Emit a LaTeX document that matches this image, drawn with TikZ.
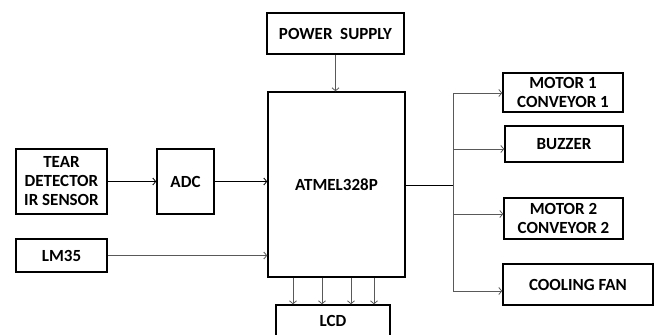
\documentclass[tikz,border=0pt]{standalone}
\usepackage{fontspec}
\setmainfont{Carlito}
\usepackage{xcolor}
\usetikzlibrary{arrows.meta,positioning,calc}

\begin{document}
\begin{tikzpicture}[x=1pt, y=-1pt, >={Straight Barb[length=3pt,width=7pt]},
    every node/.style={draw, line width=1.4pt, inner sep=0pt, align=center, font=\bfseries\fontsize{17}{19}\selectfont},
    wire/.style={line width=0.8pt, black!65}]
    \useasboundingbox (0,0) rectangle (654,335);
    \clip (0,0) rectangle (654,335);

    \node[minimum width=137pt, minimum height=41pt] (power) at (335.5, 33.5) {POWER\ \ SUPPLY};
    \node[minimum width=137pt, minimum height=185pt] (atmel) at (336.5, 184.5) {ATMEL328P};

    \node[minimum width=91pt, minimum height=65pt] (tear) at (61.5, 181.5) {TEAR\\DETECTOR\\IR SENSOR};
    \node[minimum width=57pt, minimum height=65pt] (adc) at (185.5, 181.5) {ADC};
    \node[minimum width=91pt, minimum height=33pt] (lm35) at (61.5, 255.5) {LM35};

    \node[minimum width=114pt, minimum height=32pt] (lcd) at (333, 321) {LCD};

    \node[minimum width=120pt, minimum height=39pt] (motor1) at (563, 92.5) {MOTOR 1\\CONVEYOR 1};
    \node[minimum width=118pt, minimum height=36pt] (buzzer) at (564, 144) {BUZZER};
    \node[minimum width=119pt, minimum height=41pt] (motor2) at (563.5, 218.5) {MOTOR 2\\CONVEYOR 2};
    \node[minimum width=150pt, minimum height=41pt] (fan) at (578, 284.5) {COOLING FAN};

    \coordinate (bus) at (453, 185);

    \draw[->,line width=0.8pt] (tear) -- (adc);
    \draw[->,line width=0.8pt] (adc) -- (adc -| atmel.west);
    \draw[->,wire] (lm35) -- (lm35 -| atmel.west);
    \draw[->,wire] (power) -- (power |- atmel.north);

    \foreach \x in {293,322,351,374}
        \draw[->,wire] (\x,0 |- atmel.south) -- (\x,0 |- lcd.north);

    \draw[line width=0.8pt] (bus -| atmel.east) -- (bus);
    \draw[wire] (bus |- 0,93) -- (bus |- 0,291);
    \draw[->,wire] (bus |- 0,93) -- (0,93 -| motor1.west);
    \draw[->,wire] (bus |- 0,149) -- (0,149 -| buzzer.west);
    \draw[->,wire] (bus |- 0,214) -- (0,214 -| motor2.west);
    \draw[->,wire] (bus |- 0,291) -- (0,291 -| fan.west);
\end{tikzpicture}
\end{document}
